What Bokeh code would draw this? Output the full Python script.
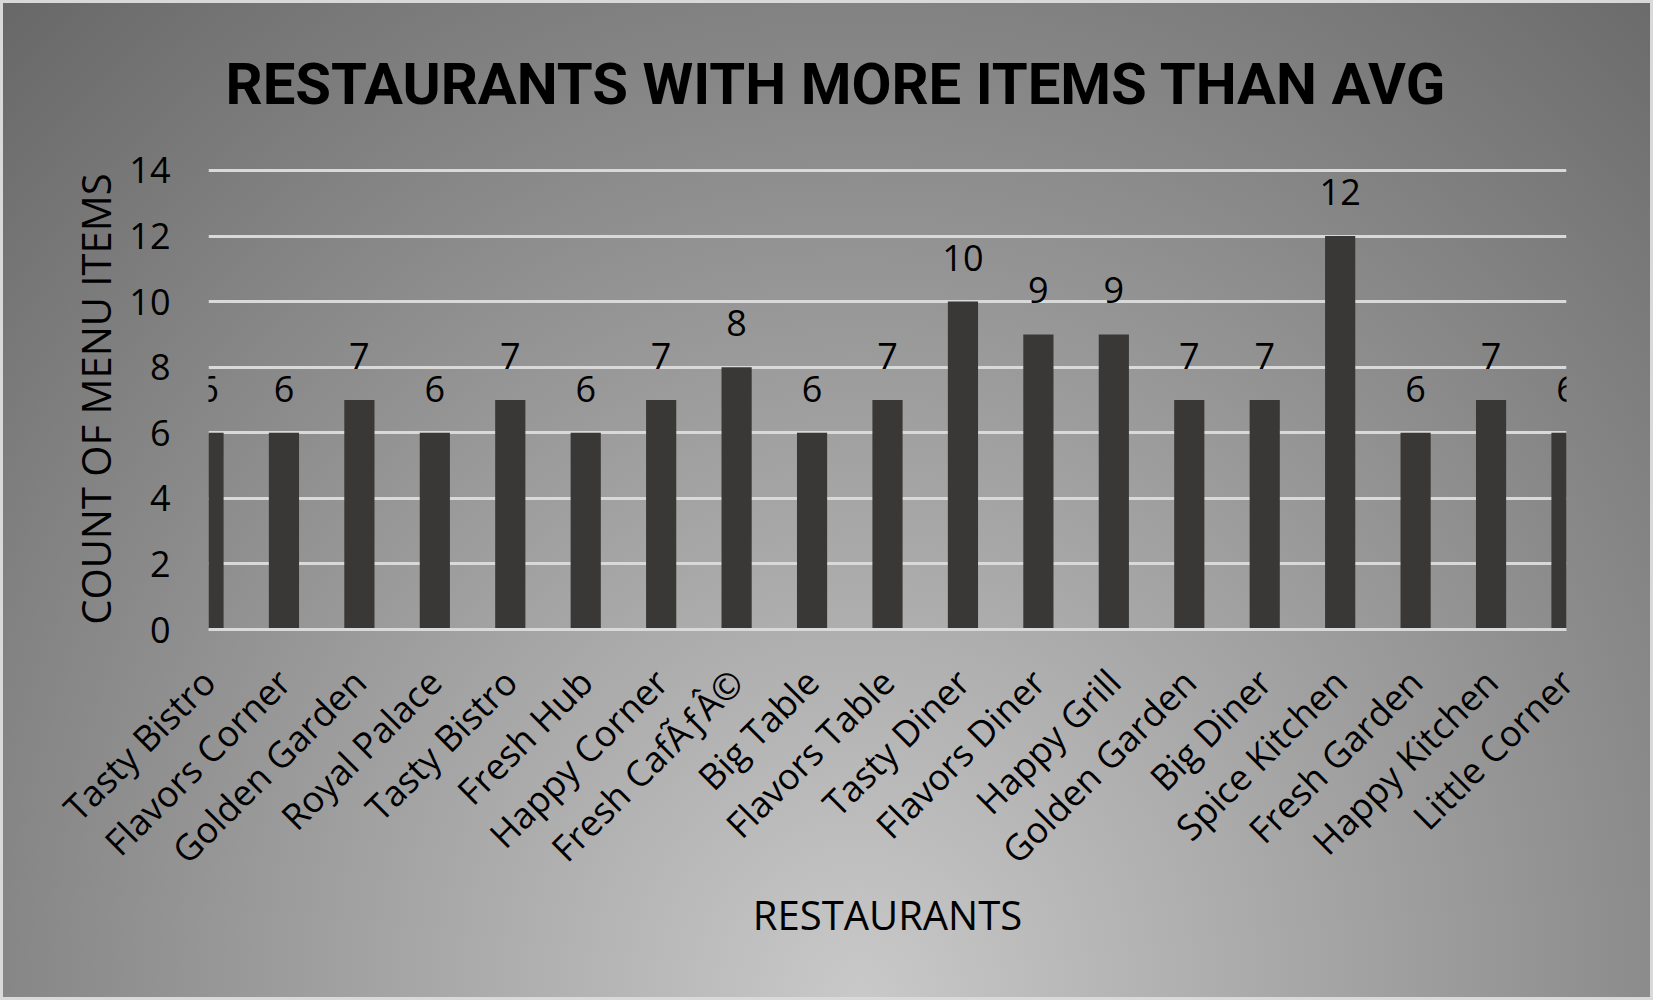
import math
from bokeh.plotting import figure
from bokeh.models import ColumnDataSource, LabelSet, FixedTicker, Range1d
from bokeh.core.properties import value
from bokeh.embed import file_html
from bokeh.resources import INLINE

# ---- data ----
restaurants = ["Tasty Bistro", "Flavors Corner", "Golden Garden", "Royal Palace",
               "Tasty Bistro", "Fresh Hub", "Happy Corner", "Fresh CafÃƒÂ©",
               "Big Table", "Flavors Table", "Tasty Diner", "Flavors Diner",
               "Happy Grill", "Golden Garden", "Big Diner", "Spice Kitchen",
               "Fresh Garden", "Happy Kitchen", "Little Corner"]
menu_counts = [6, 6, 7, 6, 7, 6, 7, 8, 6, 7, 10, 9, 9, 7, 7, 12, 6, 7, 6]
y_ticks = [0, 2, 4, 6, 8, 10, 12, 14]
title_text = "RESTAURANTS WITH MORE ITEMS THAN AVG"
x_title = "RESTAURANTS"
y_title = "COUNT OF MENU ITEMS"

positions = list(range(len(restaurants)))
FONT = "Open Sans"

src = ColumnDataSource(dict(x=positions, y=menu_counts,
                            label=[str(v) for v in menu_counts]))

p = figure(width=1653, height=1000, output_backend="svg", toolbar_location=None,
           x_range=Range1d(0, len(restaurants) - 1), y_range=Range1d(0, 14.06),
           min_border_left=208, min_border_right=87, min_border_top=168,
           min_border_bottom=371, title=title_text)

p.background_fill_color = None
p.border_fill_color = None
p.outline_line_color = None
p.styles = {
    "background": "radial-gradient(ellipse 1300px 1420px at 860px 1000px, #c9c9c9 0%, #646464 100%)",
    "box-shadow": "inset 0 0 0 3px #d9d9d9",
}

p.vbar(x="x", top="y", width=0.4, source=src, fill_color="#3a3836", line_color=None)

# title
p.title.text_font = "Roboto"
p.title.text_font_style = "bold"
p.title.text_font_size = "58px"
p.title.text_color = "#000000"
p.title.align = "left"
p.title.offset = 17
p.title.vertical_align = "top"
p.title.standoff = 97

# grid
p.xgrid.grid_line_color = None
p.ygrid.ticker = FixedTicker(ticks=y_ticks)
p.ygrid.grid_line_color = "#d9d9d9"
p.ygrid.grid_line_width = 3

# x axis
xa = p.xaxis[0]
xa.ticker = FixedTicker(ticks=positions)
xa.major_label_overrides = {i: n for i, n in zip(positions, restaurants)}
xa.major_label_orientation = math.pi / 4
xa.major_label_text_font = FONT
xa.major_label_text_font_size = "36px"
xa.major_label_text_color = "#000000"
xa.major_label_standoff = 40
xa.major_tick_line_color = None
xa.minor_tick_line_color = None
xa.axis_line_color = "#d9d9d9"
xa.axis_line_width = 3
xa.axis_label = x_title
xa.axis_label_text_font = FONT
xa.axis_label_text_font_size = "40px"
xa.axis_label_text_font_style = "normal"
xa.axis_label_text_color = "#000000"
xa.axis_label_standoff = -7

# y axis
ya = p.yaxis[0]
ya.ticker = FixedTicker(ticks=y_ticks)
ya.axis_line_color = None
ya.major_tick_line_color = None
ya.minor_tick_line_color = None
ya.major_label_text_font = FONT
ya.major_label_text_font_size = "36px"
ya.major_label_text_color = "#000000"
ya.major_label_standoff = 32
ya.axis_label = y_title
ya.axis_label_text_font = FONT
ya.axis_label_text_font_size = "40px"
ya.axis_label_text_font_style = "normal"
ya.axis_label_text_color = "#000000"
ya.axis_label_standoff = 3

vals = LabelSet(x="x", y="y", text="label", source=src, y_offset=31,
                text_align="center", text_baseline="alphabetic", text_font=value(FONT),
                text_font_size="36px", text_color="#000000")
p.add_layout(vals)

open("out.html", "w").write(file_html(p, INLINE))
